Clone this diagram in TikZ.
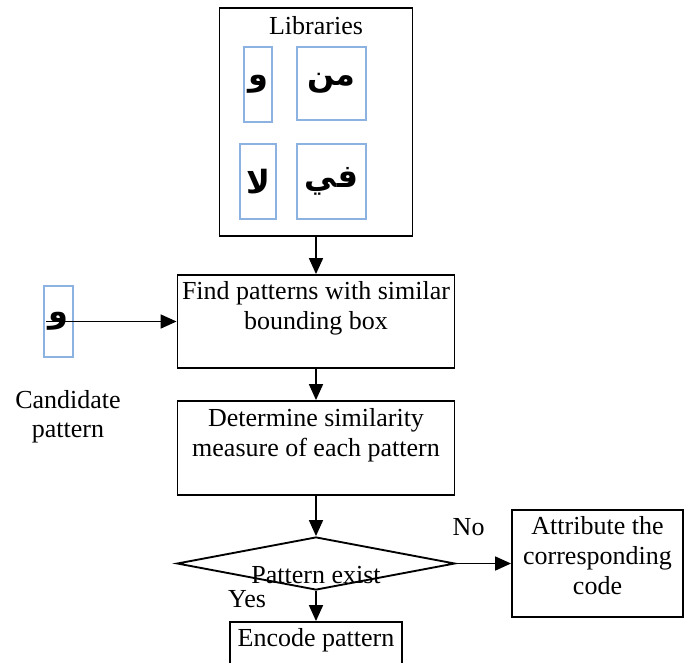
\documentclass[tikz,border=0pt]{standalone}
\usepackage{fontspec}
\setmainfont{Liberation Serif}
\newfontfamily\arabicfont[Script=Arabic]{DejaVu Sans}
\TeXXeTstate=1
\usepackage{tikz}
\usetikzlibrary{shapes, arrows.meta, positioning}
\definecolor{libblue}{RGB}{140,178,226}
\tikzstyle{boxnode} = [rectangle, draw, line width=1.4pt]
\tikzstyle{bluenode} = [rectangle, draw=libblue, line width=1pt, inner sep=0pt, font=\fontsize{24}{24}\arabicfont\bfseries]
\tikzstyle{decnode} = [diamond, draw, line width=1.4pt, inner sep=0pt, aspect=5.245]
\tikzstyle{lbl} = [anchor=north, inner sep=0pt, align=center]
\tikzstyle{line} = [draw, line width=1.3pt, -{Triangle[length=12pt, width=10.5pt]}]

\begin{document}
\begin{tikzpicture}[x=0.75pt, y=-0.75pt, font=\fontsize{19.5}{22.5}\selectfont]
			\useasboundingbox (0,0) rectangle (690,662);
			\node [boxnode, minimum width=144.75pt, minimum height=171pt,
				label={[lbl, yshift=-6.9pt]north:Libraries}] (libs) at (316, 122) {};
			\node [bluenode, minimum width=21pt, minimum height=56.25pt] (waw) at (258, 84.5) {\beginR و\endR};
			\node [bluenode, minimum width=51.75pt, minimum height=54.75pt] (min) at (331.5, 83.5) {\beginR من\endR};
			\node [bluenode, minimum width=27pt, minimum height=56.25pt] (la) at (258, 181.5) {\beginR لا\endR};
			\node [bluenode, minimum width=51.75pt, minimum height=56.25pt] (fi) at (331.5, 181.5) {\beginR في\endR};
		
			\node [boxnode, minimum width=207.75pt, minimum height=69.75pt,
				label={[lbl, yshift=-5.4pt]north:{Find patterns with similar\\bounding box}}] (find) at (316, 321.5) {};
			\node [bluenode, minimum width=21.75pt, minimum height=53.25pt,
				label={[lbl, font=\fontsize{19.5}{21.75}\selectfont, xshift=7.1pt, yshift=-24.2pt]south:{Candidate\\pattern}}] (cand) at (58.5, 321.5) {\beginR و\endR};
			\node [boxnode, minimum width=207.75pt, minimum height=70.5pt,
				label={[lbl, yshift=-6.2pt]north:{Determine similarity\\measure of each pattern}}] (det) at (316, 448) {};
			\node [decnode, minimum width=208.5pt, minimum height=39.75pt,
				label={[anchor=base, inner sep=0pt, yshift=-9pt]center:Pattern exist}] (exist) at (316, 563.5) {};
			\node [boxnode, minimum width=128.25pt, minimum height=80.25pt,
				label={[lbl, yshift=-5.4pt]north:{Attribute the\\corresponding\\code}}] (attr) at (597.5, 563.5) {};
			\node [boxnode, minimum width=129pt, minimum height=45pt,
				label={[lbl, yshift=-5.4pt]north:Encode pattern}] (enc) at (316, 652) {};
		
			\path [line] (libs) -- (find);
			\path [line] ([xshift=2.25pt]cand.west) -- (find);
			\path [line] (find) -- (det);
			\path [line] (det) -- (exist);
			\path [line] (exist) -- node [pos=0.23, anchor=base, yshift=21pt] {No} (attr);
			\path [line] (exist) -- node [pos=0.56, anchor=base, xshift=-51.75pt] {Yes} (enc);
		\end{tikzpicture}
\end{document}
